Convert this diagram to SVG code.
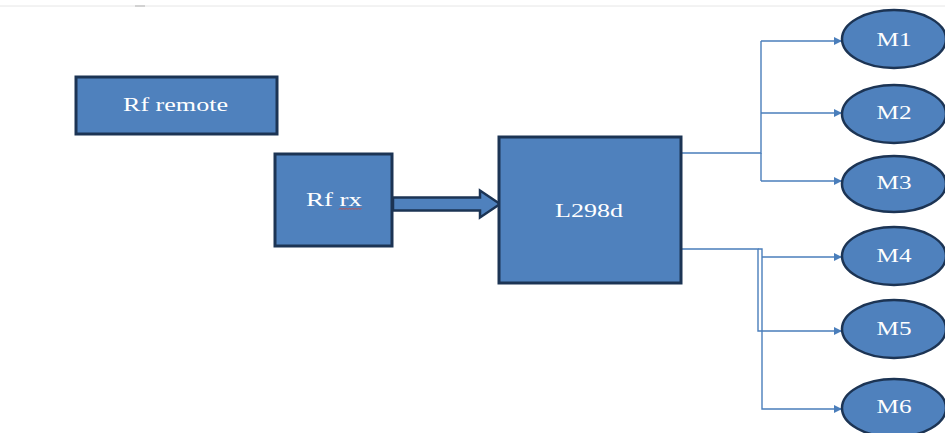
<svg xmlns="http://www.w3.org/2000/svg" width="945" height="433" viewBox="0 0 945 433">
  <style>
    .box { fill: #4F81BD; stroke: #1C3454; stroke-width: 3; }
    .mot { fill: #4F81BD; stroke: #1C3454; stroke-width: 2.5; }
    .lbl { font-family: "Liberation Serif", "Times New Roman", serif; font-size: 18px; fill: #FFFFFF; text-anchor: middle; }
    .wire { fill: none; stroke: #4A7EBB; stroke-width: 1.4; }
  </style>
  <defs>
    <marker id="ah" viewBox="0 0 10 10" refX="10" refY="5" markerWidth="9" markerHeight="8" markerUnits="userSpaceOnUse" orient="auto">
      <path d="M0,0 L10,5 L0,10 z" fill="#4A7EBB"/>
    </marker>
  </defs>
  <rect width="945" height="433" fill="#FFFFFF"/>
  <line x1="0" y1="6" x2="945" y2="6" stroke="#E6E6E6" stroke-width="1"/>
  <line x1="135" y1="6" x2="145" y2="6" stroke="#BDBDBD" stroke-width="1.2"/>

  <g id="connectors">
    <path class="wire" d="M682,153 H761 V41"/>
    <path class="wire" d="M761,153 V181"/>
    <path class="wire" d="M761,41 H842" marker-end="url(#ah)"/>
    <path class="wire" d="M761,113 H842" marker-end="url(#ah)"/>
    <path class="wire" d="M761,181 H842" marker-end="url(#ah)"/>
    <path class="wire" d="M682,249 H758 V331 H842" marker-end="url(#ah)"/>
    <path class="wire" d="M758,249 H762 V409 H842" marker-end="url(#ah)"/>
    <path class="wire" d="M762,257 H842" marker-end="url(#ah)"/>
    <path d="M393,197.5 H480 V190.5 L500,204 L480,217.5 V210.5 H393 Z" fill="#4F81BD" stroke="#1C3454" stroke-width="2.5" stroke-linejoin="miter"/>
  </g>

  <g id="rf-remote">
    <rect class="box" x="76" y="77" width="201" height="57"/>
    <text class="lbl" x="175.5" y="111" textLength="105" lengthAdjust="spacingAndGlyphs">Rf remote</text>
  </g>

  <g id="rf-rx">
    <rect class="box" x="275" y="154" width="117" height="92"/>
    <text class="lbl" x="334" y="206" textLength="56" lengthAdjust="spacingAndGlyphs">Rf rx</text>
    <path d="M339,209.5 l1.5,-1.5 l1.5,1.5 l1.5,-1.5 l1.5,1.5 l1.5,-1.5 l1.5,1.5 l1.5,-1.5 l1.5,1.5 l1.5,-1.5 l1.5,1.5 l1.5,-1.5 l1.5,1.5 l1.5,-1.5 l1.5,1.5 l1.5,-1.5" fill="none" stroke="#C0504D" stroke-width="1"/>
  </g>

  <g id="l298d">
    <rect class="box" x="499" y="137" width="182" height="146"/>
    <text class="lbl" x="589" y="217" textLength="68" lengthAdjust="spacingAndGlyphs">L298d</text>
  </g>

  <g id="m1">
    <ellipse class="mot" cx="894" cy="39" rx="52" ry="29"/>
    <text class="lbl" x="894" y="46" textLength="35" lengthAdjust="spacingAndGlyphs">M1</text>
  </g>
  <g id="m2">
    <ellipse class="mot" cx="894" cy="114" rx="52" ry="29"/>
    <text class="lbl" x="894" y="119" textLength="35" lengthAdjust="spacingAndGlyphs">M2</text>
  </g>
  <g id="m3">
    <ellipse class="mot" cx="894" cy="184" rx="52" ry="28"/>
    <text class="lbl" x="894" y="189" textLength="35" lengthAdjust="spacingAndGlyphs">M3</text>
  </g>
  <g id="m4">
    <ellipse class="mot" cx="894" cy="256" rx="52" ry="29"/>
    <text class="lbl" x="894" y="262" textLength="35" lengthAdjust="spacingAndGlyphs">M4</text>
  </g>
  <g id="m5">
    <ellipse class="mot" cx="894" cy="329" rx="52" ry="29"/>
    <text class="lbl" x="894" y="335" textLength="35" lengthAdjust="spacingAndGlyphs">M5</text>
  </g>
  <g id="m6">
    <ellipse class="mot" cx="894" cy="408" rx="52" ry="29"/>
    <text class="lbl" x="894" y="413" textLength="35" lengthAdjust="spacingAndGlyphs">M6</text>
  </g>
</svg>
